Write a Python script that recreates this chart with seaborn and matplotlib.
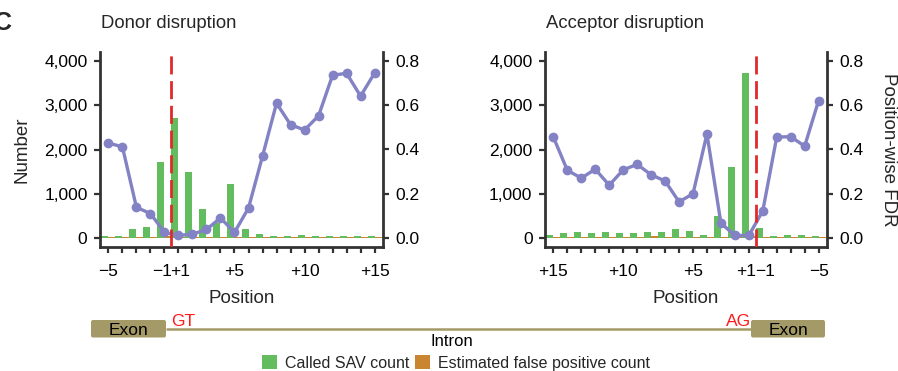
import matplotlib
matplotlib.use('Agg')
import matplotlib.pyplot as plt
import seaborn as sns
import pandas as pd
from matplotlib.patches import FancyBboxPatch
from matplotlib.transforms import ScaledTranslation

# ---------------- data ----------------
donor_positions = ['-5', '-4', '-3', '-2', '-1', '+1', '+2', '+3', '+4', '+5',
                   '+6', '+7', '+8', '+9', '+10', '+11', '+12', '+13', '+14', '+15']
donor_called = [40, 50, 197, 250, 1712, 2720, 1500, 651, 333, 1220,
                212, 83, 45, 53, 60, 53, 38, 38, 38, 38]
donor_false = [17, 20, 27, 28, 45, 33, 27, 25, 30, 32,
               29, 31, 27, 27, 29, 29, 28, 28, 24, 28]
donor_fdr = [0.429, 0.412, 0.139, 0.111, 0.026, 0.012, 0.018, 0.039, 0.091, 0.026,
             0.136, 0.370, 0.609, 0.512, 0.488, 0.552, 0.735, 0.744, 0.641, 0.745]

acceptor_positions = ['+15', '+14', '+13', '+12', '+11', '+10', '+9', '+8', '+7', '+6',
                      '+5', '+4', '+3', '+2', '+1', '-1', '-2', '-3', '-4', '-5']
acceptor_called = [76, 114, 129, 114, 136, 106, 106, 129, 136, 212,
                   152, 68, 508, 1598, 3735, 227, 45, 60, 76, 45]
acceptor_false = [35, 35, 35, 35, 33, 33, 35, 37, 35, 35,
                  30, 32, 35, 19, 45, 28, 21, 27, 32, 28]
acceptor_fdr = [0.456, 0.306, 0.271, 0.311, 0.239, 0.308, 0.333, 0.286, 0.258, 0.164,
                0.200, 0.470, 0.068, 0.012, 0.012, 0.123, 0.456, 0.458, 0.415, 0.621]

labelled_ticks = {'-5': '\u22125', '-1': '\u22121', '+1': '+1', '+5': '+5',
                  '+10': '+10', '+15': '+15'}
count_ticks = [0, 1000, 2000, 3000, 4000]
count_tick_labels = ['0', '1,000', '2,000', '3,000', '4,000']
fdr_ticks = [0.0, 0.2, 0.4, 0.6, 0.8]
fdr_tick_labels = ['0.0', '0.2', '0.4', '0.6', '0.8']

SAV = 'Called SAV count'
FP = 'Estimated false positive count'

GREEN = '#63bd5f'
ORANGE = '#c9852f'
LINE = '#8282c4'
RED = '#e02a2a'
DARK = '#333333'
EXON = '#a49a68'

# ---------------- style ----------------
sns.set_theme(style='ticks')
plt.rcParams['font.family'] = ['Liberation Sans', 'DejaVu Sans']
plt.rcParams['axes.linewidth'] = 2.0

W, H = 898, 371
fig = plt.figure(figsize=(W / 100, H / 100), dpi=100)

# background diagram axes (pixel coordinates)
dax = fig.add_axes([0, 0, 1, 1])
dax.set_xlim(0, W)
dax.set_ylim(H, 0)
dax.axis('off')

narrow = ['Liberation Sans Narrow', 'Liberation Sans', 'DejaVu Sans']


def shift(label, dx_px):
    label.set_transform(label.get_transform() +
                        ScaledTranslation(dx_px / 100, 0, fig.dpi_scale_trans))


def panel(rect, positions, called, false, fdr, title, left_label, right_label):
    n = len(positions)
    ax = fig.add_axes(rect)
    df = pd.DataFrame({'Position': positions + positions,
                       'Number': called + false,
                       'kind': [SAV] * n + [FP] * n})
    sns.barplot(data=df, x='Position', y='Number', hue='kind', order=positions,
                hue_order=[SAV, FP], palette=[GREEN, ORANGE], width=1, gap=0,
                dodge=True, saturation=1, linewidth=0, errorbar=None, ax=ax)
    handles, labels = ax.get_legend_handles_labels()
    if ax.get_legend() is not None:
        ax.get_legend().remove()

    ax2 = ax.twinx()
    sns.pointplot(x=positions, y=fdr, order=positions, color=LINE, markers='o',
                  markersize=5.2, linewidth=2.4, errorbar=None, ax=ax2)
    i_m1, i_p1 = positions.index('-1'), positions.index('+1')
    boundary = (i_m1 + i_p1) / 2
    ax2.axvline(boundary, color=RED, lw=2.0, ls=(0, (6.5, 2.4)), zorder=5)

    ax.set_ylim(-200, 4200)
    ax2.set_ylim(-0.04, 0.84)
    ax.set_xticks(range(n))
    ax.set_xticklabels([labelled_ticks.get(p, '') for p in positions])
    ax.set_xlim(-0.6, n - 1 + 0.6)
    ax.set_yticks(count_ticks)
    ax.set_yticklabels(count_tick_labels)
    ax2.set_yticks(fdr_ticks)
    ax2.set_yticklabels(fdr_tick_labels)

    for a in (ax, ax2):
        a.tick_params(axis='both', direction='out', length=4.5, width=1.6,
                      color=DARK, labelsize=12.5, labelcolor='black')
        a.tick_params(axis='x', pad=7.5)
        a.tick_params(axis='y', pad=4.5)
        for s in a.spines.values():
            s.set_color(DARK)
            s.set_linewidth(2.0)
        a.spines['top'].set_visible(False)
        a.grid(False)
    ax.spines['right'].set_visible(False)
    ax2.spines['left'].set_visible(False)
    ax2.spines['bottom'].set_visible(False)

    ax.set_xlabel('Position', fontsize=13.5, labelpad=8.5)
    ax.set_ylabel('Number' if left_label else '', fontsize=13.5, labelpad=10)
    ax2.set_ylabel('Position-wise FDR' if right_label else '', fontsize=13.5,
                   rotation=270, va='bottom', labelpad=11.5)

    # the adjacent -1/+1 labels sit slightly apart from their ticks
    xl = ax.get_xticklabels()
    lo, hi = min(i_m1, i_p1), max(i_m1, i_p1)
    shift(xl[lo], -2.5)
    shift(xl[hi], 2.0)

    x0 = rect[0] * W
    fig.text((x0 + 1) / W, (H - 28) / H, title, fontsize=13.3,
             ha='left', va='baseline')
    return handles, labels


handles, labels = panel([100 / W, 124 / H, 283 / W, 195 / H],
                        donor_positions, donor_called, donor_false, donor_fdr,
                        'Donor disruption', True, False)
panel([545 / W, 124 / H, 282 / W, 195 / H],
      acceptor_positions, acceptor_called, acceptor_false, acceptor_fdr,
      'Acceptor disruption', False, True)

fig.text(-6 / W, (H - 30) / H, 'C', fontsize=18, fontweight='bold',
         ha='left', va='baseline')

# gene structure diagram
dax.plot([166, 751], [328.5, 328.5], color=EXON, lw=1.8, solid_capstyle='butt')
for bx, bw in [(91, 75), (751, 74)]:
    dax.add_patch(FancyBboxPatch((bx, 320), bw, 17.5,
                                 boxstyle='round,pad=0,rounding_size=2',
                                 facecolor=EXON, edgecolor='none'))
    dax.text(bx + bw / 2, 330.5, 'Exon', fontsize=12.5, family=narrow,
             ha='center', va='center', color='black')
dax.text(171.5, 326, 'GT', fontsize=12.5, family=narrow, color='#ff1a1a',
         ha='left', va='baseline')
dax.text(751.5, 326, 'AG', fontsize=12.5, family=narrow, color='#ff1a1a',
         ha='right', va='baseline')
dax.text(452, 342, 'Intron', fontsize=12, family=narrow, ha='center',
         va='center', color='black')

fig.legend(handles, labels, loc='center', bbox_to_anchor=(456 / W, 8 / H),
           ncol=2, frameon=False, fontsize=11.5, handlelength=0.95,
           handleheight=0.95, handletextpad=0.5, columnspacing=0.35,
           borderpad=0, borderaxespad=0)

fig.savefig('out.png', dpi=100)
